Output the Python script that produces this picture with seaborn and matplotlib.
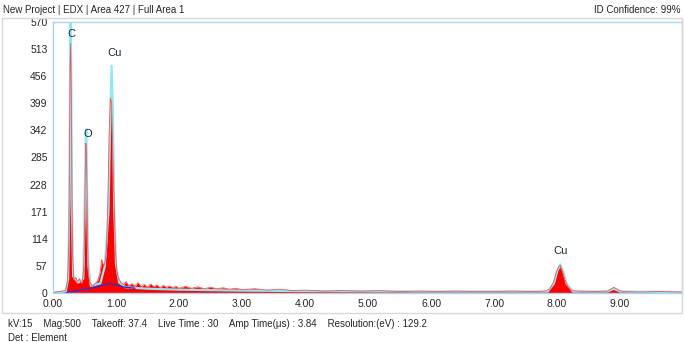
import matplotlib.pyplot as plt
import matplotlib.patches as mpatches
import seaborn as sns
import pandas as pd

# spectrum (keV, counts)
energy = [0.00, 0.05, 0.10, 0.15, 0.20, 0.23, 0.25, 0.26, 0.27, 0.28, 0.29, 0.30, 0.31, 0.33,
          0.36, 0.39, 0.42, 0.45, 0.47, 0.49, 0.50, 0.51, 0.52, 0.53, 0.54, 0.55, 0.56, 0.58,
          0.62, 0.67, 0.71, 0.75, 0.77, 0.79, 0.81, 0.83, 0.85, 0.87, 0.89, 0.91, 0.93, 0.94,
          0.95, 0.97, 0.99, 1.01, 1.04, 1.08, 1.12, 1.16, 1.20, 1.25, 1.30, 1.35, 1.40, 1.45,
          1.50, 1.55, 1.60, 1.65, 1.70, 1.75, 1.80, 1.85, 1.90, 1.95, 2.00, 2.10, 2.20, 2.30,
          2.40, 2.50, 2.60, 2.70, 2.80, 2.90, 3.00, 3.20, 3.40, 3.60, 3.80, 4.00, 4.30, 4.60,
          4.90, 5.20, 5.50, 5.80, 6.10, 6.40, 6.70, 7.00, 7.30, 7.60, 7.80, 7.88, 7.94, 7.99,
          8.03, 8.05, 8.08, 8.12, 8.17, 8.24, 8.35, 8.60, 8.80, 8.86, 8.90, 8.94, 8.98, 9.05,
          9.30, 9.60, 9.98]
counts = [1, 2, 3, 4, 6, 25, 100, 260, 470, 525, 430, 220, 80, 28,
          32, 24, 30, 20, 28, 60, 130, 240, 315, 295, 210, 100, 45, 24,
          14, 20, 26, 45, 70, 62, 58, 68, 95, 190, 330, 410, 400, 340,
          290, 190, 90, 48, 30, 22, 18, 24, 15, 20, 14, 22, 13, 18,
          12, 19, 13, 17, 11, 16, 12, 15, 11, 14, 10, 14, 10, 13,
          9, 12, 9, 11, 8, 10, 7, 9, 6, 8, 5, 6, 4, 5,
          4, 5, 3, 4, 3, 4, 3, 3, 4, 3, 4, 8, 22, 45,
          56, 58, 48, 30, 14, 5, 4, 3, 4, 9, 12, 9, 6, 3,
          2, 3, 2]

# fitted envelope (cyan)
fit_energy = [0.00, 0.20, 0.24, 0.26, 0.27, 0.28, 0.29, 0.30, 0.32, 0.40, 0.48, 0.50, 0.52,
              0.53, 0.54, 0.56, 0.60, 0.75, 0.82, 0.88, 0.91, 0.93, 0.95, 0.97, 1.00, 1.05,
              1.15, 1.50, 2.00, 3.00, 4.00, 6.00, 7.85, 7.95, 8.00, 8.05, 8.10, 8.15, 8.25,
              8.80, 8.90, 9.00, 9.98]
fit_counts = [1, 3, 30, 200, 480, 600, 450, 180, 35, 22, 30, 160, 330,
              345, 220, 60, 15, 20, 55, 170, 380, 478, 380, 190, 60, 22,
              12, 9, 7, 5, 4, 3, 3, 20, 45, 60, 45, 20, 3,
              3, 9, 3, 2]

# background (blue)
bg_energy = [0.20, 0.40, 0.60, 0.80, 0.90, 1.00, 1.15, 1.30]
bg_counts = [0, 6, 10, 17, 20, 17, 12, 10]

peak_labels = ["C", "O", "Cu", "Cu"]
peak_x = [0.29, 0.55, 0.97, 8.05]
peak_y = [545, 334, 505, 88]

yticks = [0, 57, 114, 171, 228, 285, 342, 399, 456, 513, 570]
xticks = [0, 1, 2, 3, 4, 5, 6, 7, 8, 9]

sns.set_style("white")
plt.rcParams['font.family'] = ['Liberation Sans', 'DejaVu Sans']

spec = pd.DataFrame({"energy": energy, "counts": counts})
fit = pd.DataFrame({"energy": fit_energy, "counts": fit_counts})
bg = pd.DataFrame({"energy": bg_energy, "counts": bg_counts})

fig = plt.figure(figsize=(6.85, 3.42), dpi=100)
ax = fig.add_axes([0.0774, 0.1433, 0.918, 0.7924])

sns.lineplot(data=fit, x="energy", y="counts", ax=ax, color="#8ee8f4", linewidth=1.6)
ax.fill_between(spec["energy"], spec["counts"], color="#ff0000", linewidth=0)
sns.lineplot(data=spec, x="energy", y="counts", ax=ax, color="#ff5050", linewidth=0.6)
sns.lineplot(data=bg, x="energy", y="counts", ax=ax, color="#3030d0", linewidth=1.0)

for lab, x, y in zip(peak_labels, peak_x, peak_y):
    ax.text(x, y, lab, fontsize=8, color="#1a2a3a", ha="center", va="center")

ax.set_xlim(0, 9.98)
ax.set_ylim(0, 570)
ax.set_xticks(xticks)
ax.set_xticklabels([f"{v:.2f}" for v in xticks])
ax.set_yticks(yticks)
ax.tick_params(labelsize=7.5, length=2, color="#9ccbe6", pad=2)
ax.set_xlabel("")
ax.set_ylabel("")
for sp in ax.spines.values():
    sp.set_color("#a8d4ee")
    sp.set_linewidth(1.0)

fig.patches.append(mpatches.Rectangle((0.003, 0.085), 0.993, 0.862, transform=fig.transFigure,
                                      fill=False, edgecolor="#d8d8d8", linewidth=1.0))

fig.text(0.004, 0.985, "New Project | EDX | Area 427 | Full Area 1", fontsize=7, va="top", ha="left")
fig.text(0.993, 0.985, "ID Confidence: 99%", fontsize=7, va="top", ha="right")
fig.text(0.012, 0.052, "kV:15    Mag:500    Takeoff: 37.4    Live Time : 30    Amp Time(\u03bcs) : 3.84    Resolution:(eV) : 129.2",
         fontsize=7, va="center", ha="left")
fig.text(0.012, 0.013, "Det : Element", fontsize=7, va="center", ha="left")

fig.savefig("out.png", dpi=100)
